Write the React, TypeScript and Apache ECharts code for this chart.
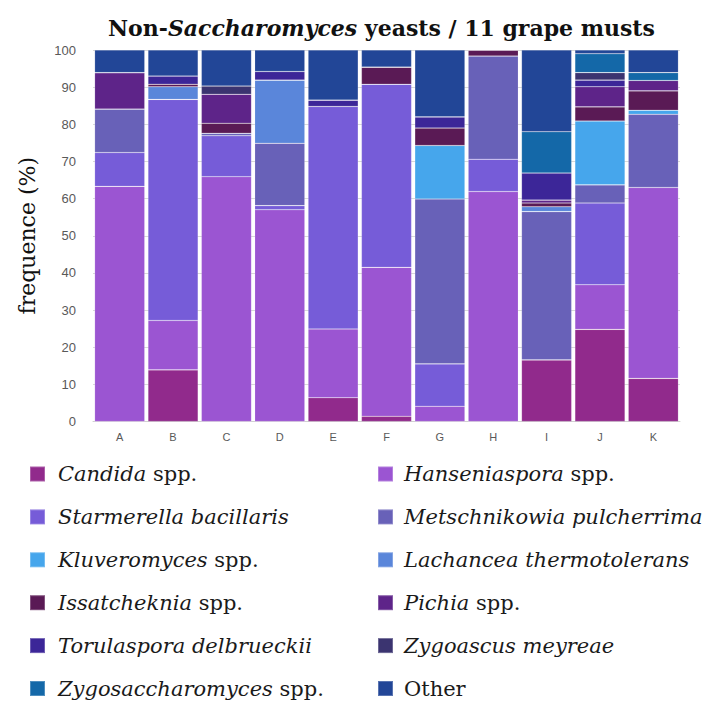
import React, { useEffect, useRef } from "react";
import * as echarts from "echarts";

const categories = ["A", "B", "C", "D", "E", "F", "G", "H", "I", "J", "K"];
const yTicks = [0, 10, 20, 30, 40, 50, 60, 70, 80, 90, 100];

const candida = [0, 13.9, 0, 0, 6.4, 1.4, 0, 0, 16.6, 24.8, 11.6];
const hanseniaspora = [63.3, 13.3, 65.9, 57.0, 18.5, 40.1, 4.1, 61.9, 0, 12.0, 51.4];
const starmerella = [9.1, 59.5, 11.0, 1.1, 59.9, 49.3, 11.4, 8.7, 0, 22.0, 0];
const metschnikowia = [11.7, 0, 0.7, 16.8, 0, 0, 44.4, 27.8, 39.9, 4.9, 19.7];
const kluveromyces = [0, 0, 0, 0, 0, 0, 14.4, 0, 0, 17.2, 1.1];
const lachancea = [0, 3.4, 0, 17.0, 0, 0, 0, 0, 1.3, 0, 0];
const issatcheknia = [0, 0.7, 2.7, 0, 0, 4.6, 4.7, 1.6, 1.0, 3.8, 5.2];
const pichia = [9.8, 0, 7.8, 0, 0, 0, 0, 0, 0.8, 5.4, 2.8];
const torulaspora = [0, 2.2, 0, 2.3, 1.7, 0, 3.0, 0, 7.3, 1.8, 0];
const zygoascus = [0, 0, 2.2, 0, 0, 0, 0, 0, 0, 2.0, 0];
const zygosaccharomyces = [0, 0, 0, 0, 0, 0, 0, 0, 11.1, 5.1, 2.1];
const other = [6.1, 7.0, 9.7, 5.8, 13.5, 4.6, 18.0, 0, 22.0, 1.0, 6.1];

const seriesNames = [
  "Candida spp.",
  "Hanseniaspora spp.",
  "Starmerella bacillaris",
  "Metschnikowia pulcherrima",
  "Kluveromyces spp.",
  "Lachancea thermotolerans",
  "Issatcheknia spp.",
  "Pichia spp.",
  "Torulaspora delbrueckii",
  "Zygoascus meyreae",
  "Zygosaccharomyces spp.",
  "Other",
];
const seriesData = [
  candida, hanseniaspora, starmerella, metschnikowia, kluveromyces, lachancea,
  issatcheknia, pichia, torulaspora, zygoascus, zygosaccharomyces, other,
];
const colors = [
  "#912A8C", "#9B55D2", "#765CD8", "#6861B8", "#46A6EC", "#5A86DA",
  "#5A1A55", "#5E2489", "#3C2698", "#3B3470", "#1468A8", "#224697",
];

const SERIF = "'DejaVu Serif', Georgia, serif";

function legendFormatter(name: string): string {
  if (name === "Other") return "{n|Other}";
  if (name.endsWith(" spp.")) {
    return "{i|" + name.replace(" spp.", "") + "}{n| spp.}";
  }
  return "{i|" + name + "}";
}

export default function App() {
  const ref = useRef<HTMLDivElement>(null);
  useEffect(() => {
    if (!ref.current) return;
    const chart = echarts.init(ref.current, null, { renderer: "svg" });
    const FS = 21;
    const legends = seriesNames.map((name, idx) => {
      const col = idx % 2;
      const row = Math.floor(idx / 2);
      const firstIsNormal = name === "Other";
      return {
        data: [name],
        orient: "horizontal",
        left: col === 0 ? 21 : 369,
        top: 467.5 + row * 42.9 - 12,
        padding: 0,
        icon: "rect",
        itemWidth: 15,
        itemHeight: 15,
        formatter: legendFormatter,
        selectedMode: false,
        textStyle: {
          rich: {
            i: { fontFamily: SERIF, fontStyle: "italic", fontSize: FS, color: "#1a1a1a", lineHeight: 24, padding: [0, 0, 0, col === 0 ? 8 : 6] },
            n: { fontFamily: SERIF, fontSize: FS, color: "#1a1a1a", lineHeight: 24, padding: firstIsNormal ? [0, 0, 0, 6] : 0 },
          },
        },
      };
    });
    chart.setOption({
      animation: false,
      color: colors,
      title: {
        text: "{b|Non-}{bi|Saccharomyces}{b| yeasts / 11 grape musts}",
        left: 95,
        top: 4,
        textStyle: {
          rich: {
            b: { fontFamily: SERIF, fontWeight: "bold", fontSize: 22, color: "#111" },
            bi: { fontFamily: SERIF, fontWeight: "bold", fontStyle: "italic", fontSize: 22, color: "#111" },
          },
        },
      },
      legend: legends,
      grid: { left: 77, right: 24, top: 42, bottom: 283.5, containLabel: false },
      xAxis: {
        type: "category",
        data: categories,
        axisTick: { show: false },
        axisLine: { lineStyle: { color: "#d0d0d0" } },
        axisLabel: { color: "#595959", fontSize: 11, fontFamily: "'Liberation Sans', sans-serif", margin: 10 },
      },
      yAxis: {
        type: "value",
        min: yTicks[0],
        max: yTicks[yTicks.length - 1],
        interval: 10,
        name: "frequence (%)",
        nameLocation: "middle",
        nameGap: 55,
        nameRotate: 90,
        nameTextStyle: { fontFamily: SERIF, fontSize: 22, color: "#111" },
        axisLabel: { color: "#595959", fontSize: 13, fontFamily: "'Liberation Sans', sans-serif", margin: 17 },
        splitLine: { lineStyle: { color: "#d9d9d9" } },
        axisLine: { show: false },
        axisTick: { show: false },
      },
      series: seriesNames.map((name, i) => ({
        name,
        type: "bar",
        stack: "total",
        barCategoryGap: "6%",
        data: seriesData[i],
        itemStyle: { color: colors[i], borderColor: "rgba(255,255,255,0.25)", borderWidth: 0.6 },
      })),
    });
    return () => chart.dispose();
  }, []);
  return <div ref={ref} style={{ width: 696, height: 697 }} />;
}
